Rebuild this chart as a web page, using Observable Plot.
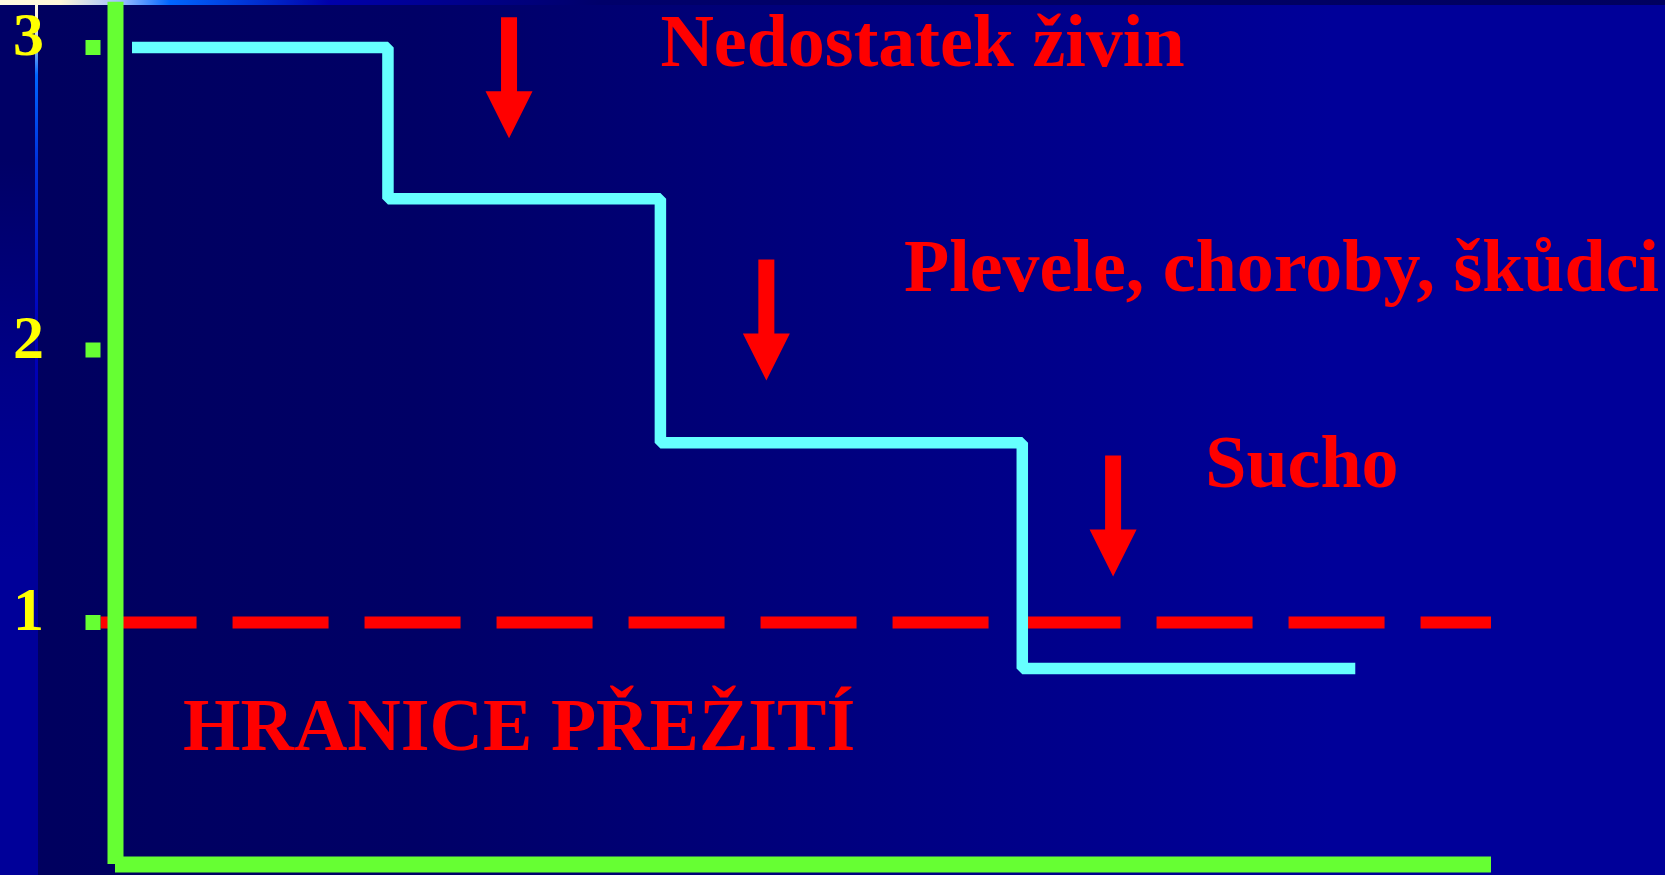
<!DOCTYPE html>
<html>
<head>
<meta charset="utf-8">
<script src="https://cdn.jsdelivr.net/npm/d3@7"></script>
<script src="https://cdn.jsdelivr.net/npm/@observablehq/plot@0.6"></script>
<style>
  html, body { margin: 0; padding: 0; overflow: hidden; background: #000066; }
  #stage { position: relative; width: 1665px; height: 875px; overflow: hidden;
    background: linear-gradient(90deg, #00005e 0%, #000066 25%, #000088 60%, #000099 80%, #000099 100%); }
  #leftStrip { position: absolute; left: 0; top: 0; width: 36px; height: 875px;
    background: linear-gradient(180deg, #000066 0px, #000066 160px, #000088 380px, #000099 560px, #000099 875px); }
  #leftLine { position: absolute; left: 35px; top: 0; width: 3px; height: 875px;
    background: linear-gradient(180deg, #fffbe0 0px, #f4f0e0 25px, #0066ff 75px, #0033dd 160px, #0000bb 330px, #000099 560px, #000099 875px); }
  #topStrip { position: absolute; left: 0; top: 0; width: 1665px; height: 5px;
    background: linear-gradient(90deg, #fffbe0 0px, #fff8d8 60px, #a0c0ff 120px, #0066ff 170px, #0000aa 330px, #00006a 600px, #00005e 1665px); }
  #chart { position: absolute; left: 0; top: 0; }
</style>
</head>
<body>
<div id="stage">
  <div id="leftStrip"></div>
  <div id="topStrip"></div>
  <div id="leftLine"></div>
  <div id="chart"></div>
</div>
<script>
// ---- data ----
// step line (yield level over time, arbitrary units)
const stepX = [1.2, 19.8, 39.6, 65.9, 90.1];
const stepY = [3, 2.5, 1.66, 0.81, 0.81];

// y axis ticks and labels
const tickValues = [1, 2, 3];
const tickLabels = ["1", "2", "3"];

// survival threshold
const thresholdY = 1;
const thresholdLabel = "HRANICE PŘEŽITÍ";

// arrows (tip positions)
const arrowX = [28.6, 47.3, 72.5];
const arrowTipY = [2.70, 1.888, 1.169];

// annotation texts
const noteText = ["Nedostatek živin", "Plevele, choroby, škůdci", "Sucho", thresholdLabel];
const noteX = [39.6, 57.3, 79.2, 4.9];
const noteY = [3.016, 2.272, 1.586, 0.573];

// ---- build tables ----
const stepData = stepX.map((x, i) => ({x, y: stepY[i]}));
const ticks = tickValues.map((v, i) => ({v, label: tickLabels[i]}));
const arrows = arrowX.map((x, i) => ({x, y: arrowTipY[i]}));
const notes = noteText.map((t, i) => ({t, x: noteX[i], y: noteY[i]}));

const CYAN = "#66ffff", GREEN = "#66ff33", RED = "#ff0000", YELLOW = "#ffff00";
const SERIF = "'Liberation Serif', 'Times New Roman', serif";

// the slide's value axis is uneven: unit spacing differs between ticks
const warp = d3.scaleLinear().domain([0, 1, 2, 3]).range([0, 242, 514.5, 817]);

// filled down arrow (tip at origin)
const downArrow = {
  draw(ctx) {
    ctx.moveTo(0, 0);
    ctx.lineTo(-23.5, -47);
    ctx.lineTo(-8, -47);
    ctx.lineTo(-8, -121);
    ctx.lineTo(8, -121);
    ctx.lineTo(8, -47);
    ctx.lineTo(23.5, -47);
    ctx.closePath();
  }
};

const chart = Plot.plot({
  width: 1665,
  height: 875,
  margin: 0,
  style: {background: "transparent", overflow: "visible"},
  x: {domain: [0, 100], range: [115, 1491], axis: null},
  y: {transform: (v) => warp(v), domain: [0, 817], range: [864, 47], axis: null},
  marks: [
    // threshold dashed line
    Plot.ruleY([thresholdY], {x1: -1.05, x2: 100, stroke: RED, strokeWidth: 12, strokeDasharray: "96 36", strokeLinecap: "butt"}),
    // axes
    Plot.ruleX([0], {y1: 0, y2: 3.15, stroke: GREEN, strokeWidth: 16, strokeLinecap: "butt"}),
    Plot.ruleY([0], {x1: 0, x2: 100, stroke: GREEN, strokeWidth: 16, strokeLinecap: "butt"}),
    // tick squares
    Plot.dot(ticks, {x: 0, y: "v", dx: -22.5, symbol: "square", r: 8.463, fill: GREEN, stroke: "none"}),
    // tick labels
    Plot.text(ticks, {x: 0, y: "v", text: "label", dx: -87, dy: -12, fill: YELLOW, fontSize: 62,
      fontWeight: "bold", fontFamily: SERIF, textAnchor: "middle"}),
    // step line
    Plot.line(stepData, {x: "x", y: "y", curve: "step-after", stroke: CYAN, strokeWidth: 11.5,
      strokeLinejoin: "miter", strokeLinecap: "butt"}),
    // arrows
    Plot.dot(arrows, {x: "x", y: "y", symbol: downArrow, r: 10, fill: RED, stroke: "none"}),
    // annotations
    Plot.text(notes, {x: "x", y: "y", text: "t", fill: RED, fontSize: 74, fontWeight: "bold",
      fontFamily: SERIF, textAnchor: "start"})
  ]
});
document.getElementById("chart").appendChild(chart);
</script>
</body>
</html>
